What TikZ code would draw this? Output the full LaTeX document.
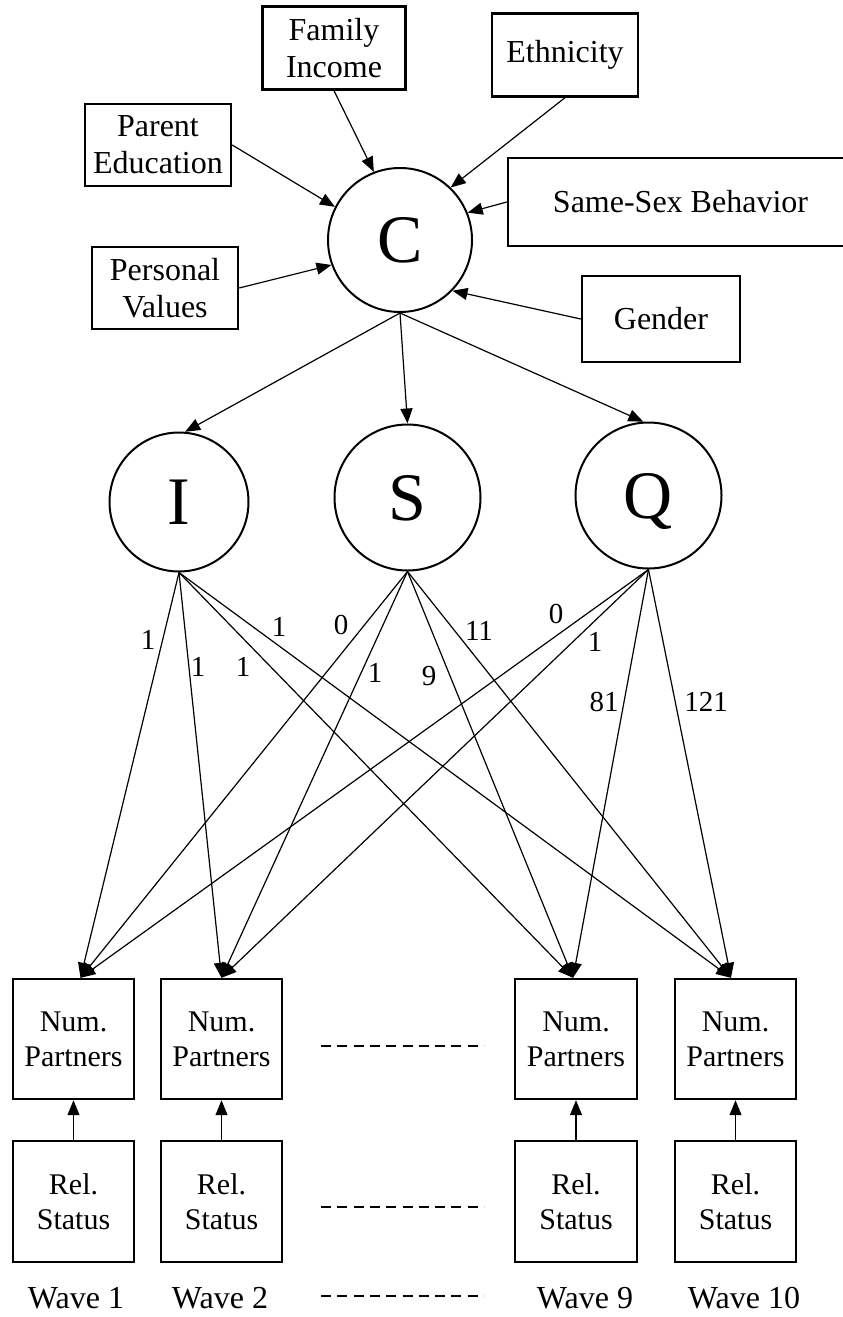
\documentclass[tikz,border=0pt]{standalone}
\usepackage{fontspec}
\setmainfont{Liberation Serif}
\usetikzlibrary{arrows.meta}
\begin{document}
\begin{tikzpicture}[x=1pt,y=-1pt,
 box/.style={draw,line width=2.4pt,inner sep=0pt,align=center,font=\fontsize{32}{37}\selectfont},
 wbox/.style={box,font=\fontsize{30}{35}\selectfont},
 lat/.style={draw,circle,line width=2pt,inner sep=0pt,text height=45pt,text depth=0pt,font=\fontsize{68}{70}\selectfont},
 conn/.style={line width=1.2pt,-{Triangle[length=15pt,width=12pt]}},
 lbl/.style={inner sep=0pt,font=\fontsize{29}{36}\selectfont},
 wave/.style={inner sep=0pt,font=\fontsize{32}{36}\selectfont},
 dots/.style={line width=2.4pt,dash pattern=on 10pt off 6.3pt}]
\useasboundingbox (0,0) rectangle (843,1317);
\fill[white] (0,0) rectangle (843,1317);

% covariate boxes
\node[box,minimum width=143,minimum height=83] (fi) at (334,48) {Family\\Income};
\node[box,minimum width=146,minimum height=83] (eth) at (565,55) {Ethnicity};
\node[box,minimum width=146,minimum height=82] (pe) at (158,145) {Parent\\Education};
\node[box,minimum width=345,minimum height=88] (ss) at (680.5,202) {Same-Sex Behavior};
\node[box,minimum width=146,minimum height=82] (pv) at (165,288) {Personal\\Values};
\node[box,minimum width=158,minimum height=86] (ge) at (661,319) {Gender};

% latent variables
\node[lat,minimum size=144] (c) at (400,240) {C};
\node[lat,minimum size=139] (i) at (179,502) {I};
\node[lat,minimum size=146] (s) at (407.5,497.5) {S};
\node[lat,minimum size=146] (q) at (648.5,495.5) {Q};

% covariates -> C
\draw[conn] (fi.south) -- (c.111);
\draw[conn] (eth.south) -- (c.46);
\draw[conn] (pe.east) -- (c.153);
\draw[conn] (ss.west) -- (c.22);
\draw[conn] (pv.east) -- (c.200);
\draw[conn] (ge.west) -- (c.-44);

% C -> I, S, Q
\draw[conn] (c.south) -- (i.85);
\draw[conn] (c.south) -- (s.north);
\draw[conn] (c.south) -- (q.94);

% wave boxes
\node[wbox,minimum width=121,minimum height=120] (n1) at (73.5,1039) {Num.\\Partners};
\node[wbox,minimum width=121,minimum height=120] (n2) at (221.5,1039) {Num.\\Partners};
\node[wbox,minimum width=122,minimum height=120] (n9) at (576,1039) {Num.\\Partners};
\node[wbox,minimum width=121,minimum height=120] (n10) at (735.5,1039) {Num.\\Partners};

\node[wbox,minimum width=121,minimum height=121] (r1) at (73.5,1201.5) {Rel.\\Status};
\node[wbox,minimum width=121,minimum height=121] (r2) at (221.5,1201.5) {Rel.\\Status};
\node[wbox,minimum width=122,minimum height=121] (r9) at (576,1201.5) {Rel.\\Status};
\node[wbox,minimum width=121,minimum height=121] (r10) at (735.5,1201.5) {Rel.\\Status};

\foreach \k in {1,2,9,10} {\draw[conn] (r\k.north) -- (n\k.south);}

% target points on top of Num. boxes
\coordinate (t1) at ([xshift=7pt]n1.north);
\coordinate (t2) at ([xshift=0pt]n2.north);
\coordinate (t9) at ([xshift=-3pt]n9.north);
\coordinate (t10) at ([xshift=-4.5pt]n10.north);

\foreach \g in {i,s,q} {
  \foreach \k in {1,2,9,10} {\draw[conn] (\g.south) -- (t\k);}
}

% loadings
\node[lbl] (l1) at (148,640) {1};
\node[lbl] (l2) at (198,667) {1};
\node[lbl] (l3) at (243,667) {1};
\node[lbl] (l4) at (279,627) {1};
\node[lbl] (l5) at (341,625) {0};
\node[lbl] (l6) at (375,673) {1};
\node[lbl] (l7) at (429,676) {9};
\node[lbl] (l8) at (479,631) {11};
\node[lbl] (l9) at (556,614) {0};
\node[lbl] (l10) at (595,642) {1};
\node[lbl] (l11) at (604,702) {81};
\node[lbl] (l12) at (706,702) {121};

% ellipsis dashes
\coordinate (da1) at (321,1046); \coordinate (db1) at (484,1046);
\coordinate (da2) at (321,1207); \coordinate (db2) at (484,1207);
\coordinate (da3) at (321,1296); \coordinate (db3) at (484,1296);
\draw[dots] (da1) -- (db1);
\draw[dots] (da2) -- (db2);
\draw[dots] (da3) -- (db3);

% wave labels
\node[wave,anchor=base] (w1) at (76,1308) {Wave 1};
\node[wave,anchor=base] (w2) at (220,1308) {Wave 2};
\node[wave,anchor=base] (w9) at (585,1308) {Wave 9};
\node[wave,anchor=base] (w10) at (744,1308) {Wave 10};
\end{tikzpicture}
\end{document}
